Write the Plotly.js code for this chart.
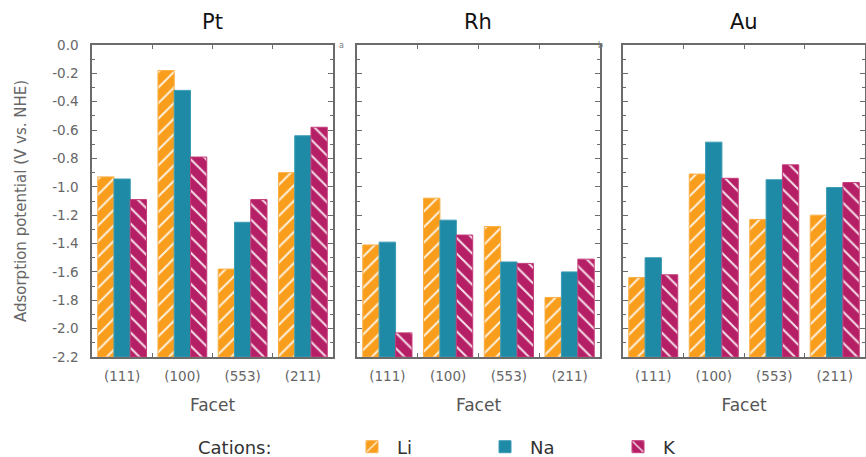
<!DOCTYPE html>
<html>
<head>
<meta charset="utf-8">
<script src="https://cdn.plot.ly/plotly-3.0.1.min.js"></script>
<style>html,body{margin:0;padding:0;background:#fff;}#chart{width:866px;height:457px;}</style>
</head>
<body>
<div id="chart"></div>
<script>
// ---- data ----
var facets = ["(111)", "(100)", "(553)", "(211)"];
var metals = ["Pt", "Rh", "Au"];
var cations = ["Li", "Na", "K"];
var baseline = -2.2;

var ptLi = [-0.93, -0.18, -1.58, -0.90];
var ptNa = [-0.945, -0.32, -1.25, -0.64];
var ptK  = [-1.09, -0.79, -1.09, -0.58];

var rhLi = [-1.41, -1.08, -1.28, -1.78];
var rhNa = [-1.39, -1.235, -1.53, -1.60];
var rhK  = [-2.03, -1.34, -1.54, -1.51];

var auLi = [-1.64, -0.91, -1.23, -1.20];
var auNa = [-1.50, -0.685, -0.95, -1.005];
var auK  = [-1.62, -0.94, -0.845, -0.97];

var yTickVals = [0, -0.2, -0.4, -0.6, -0.8, -1.0, -1.2, -1.4, -1.6, -1.8, -2.0, -2.2];
var yTickText = ["0.0", "-0.2", "-0.4", "-0.6", "-0.8", "-1.0", "-1.2", "-1.4", "-1.6", "-1.8", "-2.0", "-2.2"];

// ---- styling ----
var FONT = "DejaVu Sans, Liberation Sans, Arial, sans-serif";
var colors = {Li: "#F99D1C", Na: "#1F8AA5", K: "#B51F66"};
var lineColors = {Li: "#FBAF45", Na: "#3A9CB5", K: "#C43C7A"};
var shapes = {Li: "/", Na: "", K: "\\"};

var seriesByMetal = [
  [ptLi, ptNa, ptK],
  [rhLi, rhNa, rhK],
  [auLi, auNa, auK]
];

var traces = [];
seriesByMetal.forEach(function (series, mi) {
  series.forEach(function (vals, ci) {
    var c = cations[ci];
    var suffix = mi === 0 ? "" : String(mi + 1);
    traces.push({
      type: "bar",
      name: c,
      legendgroup: c,
      showlegend: mi === 0,
      x: facets,
      y: vals.map(function (v) { return v - baseline; }),
      base: baseline,
      customdata: vals,
      hovertemplate: metals[mi] + " %{x} " + c + ": %{customdata:.2f} V<extra></extra>",
      xaxis: "x" + suffix,
      yaxis: "y" + suffix,
      marker: {
        color: colors[c],
        line: {color: lineColors[c], width: 1},
        pattern: {shape: shapes[c], fgcolor: "rgba(255,255,255,0.85)", bgcolor: colors[c],
                  fillmode: "replace", size: 11, solidity: 0.18}
      }
    });
  });
});

var W = 866, H = 457;
var panels = [[92, 333], [357, 600], [623, 865]];
var yTop = 45, yBot = 357;
var yDom = [1 - yBot / H, 1 - yTop / H];
var axisColor = "#6b6b6b";
var tickFont = {family: FONT, size: 13.5, color: "#666"};

var layout = {
  width: W, height: H,
  margin: {l: 0, r: 0, t: 0, b: 0, autoexpand: false},
  paper_bgcolor: "#fff",
  plot_bgcolor: "#fff",
  barmode: "group",
  bargap: 0.19,
  bargroupgap: 0,
  font: {family: FONT, color: "#555"},
  showlegend: true,
  legend: {
    orientation: "h",
    x: 347 / W, xanchor: "left",
    y: 1 - 447 / H, yanchor: "middle",
    font: {family: FONT, size: 18, color: "#333"},
    entrywidth: 78,
    itemwidth: 40,
    traceorder: "normal"
  },
  annotations: [],
  shapes: []
};

panels.forEach(function (p, i) {
  var s = i === 0 ? "" : String(i + 1);
  layout["xaxis" + s] = {
    domain: [p[0] / W, p[1] / W],
    anchor: "y" + s,
    type: "category",
    automargin: false,
    showline: true, linecolor: axisColor, linewidth: 1.5, mirror: "allticks",
    ticks: "inside", tickson: "boundaries", ticklen: 4, tickcolor: axisColor,
    tickfont: tickFont, ticklabelstandoff: 6,
    showgrid: false, zeroline: false, fixedrange: true,
    title: {text: "Facet", font: {family: FONT, size: 17, color: "#555"}, standoff: 16}
  };
  layout["yaxis" + s] = {
    domain: yDom,
    anchor: "x" + s,
    automargin: false,
    range: [-2.2, 0],
    tickvals: yTickVals,
    ticktext: yTickText,
    showticklabels: i === 0,
    showline: true, linecolor: axisColor, linewidth: 1.5, mirror: "allticks",
    ticks: "inside", ticklen: 5, tickcolor: axisColor,
    minor: {dtick: 0.1, ticks: "inside", ticklen: 3, tickcolor: axisColor},
    tickfont: tickFont, ticklabelstandoff: 9,
    showgrid: false, zeroline: false, fixedrange: true,
    title: i === 0 ? {text: "Adsorption potential (V vs. NHE)", font: {family: FONT, size: 15, color: "#666"}, standoff: 22} : {text: ""}
  };
  layout.annotations.push({
    text: metals[i], xref: "paper", yref: "paper",
    x: (p[0] + p[1]) / 2 / W, y: 1 - 22 / H,
    xanchor: "center", yanchor: "middle", showarrow: false,
    font: {family: FONT, size: 21, color: "#111"}
  });
});

layout.annotations.push({text: "Cations:", xref: "paper", yref: "paper",
  x: 196 / W, y: 1 - 447 / H, xanchor: "left", yanchor: "middle", showarrow: false,
  font: {family: FONT, size: 18, color: "#333"}});
layout.annotations.push({text: "a", xref: "paper", yref: "paper", x: 341 / W, y: 1 - 39 / H,
  showarrow: false, font: {family: FONT, size: 8, color: "#777"}});
layout.annotations.push({text: "b", xref: "paper", yref: "paper", x: 605 / W, y: 1 - 39 / H,
  showarrow: false, font: {family: FONT, size: 8, color: "#777"}});

Plotly.newPlot("chart", traces, layout, {displayModeBar: false});
</script>
</body>
</html>
